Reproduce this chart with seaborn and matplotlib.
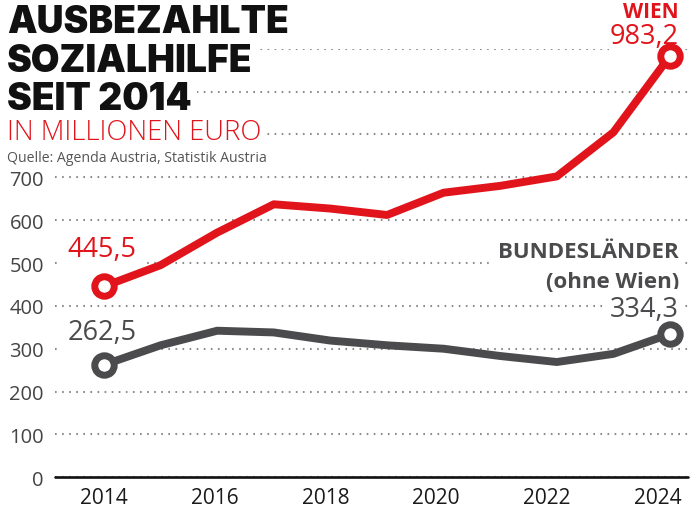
import numpy as np
import pandas as pd
import matplotlib
matplotlib.use("Agg")
import matplotlib.pyplot as plt
import seaborn as sns

# data (Mio. Euro)
years = [2014, 2015, 2016, 2017, 2018, 2019, 2020, 2021, 2022, 2023, 2024]
wien = [445.5, 495, 571, 637, 627, 612, 664, 680, 702, 805, 983.2]
bundeslaender = [262.5, 308, 342, 338, 319, 308, 300, 283, 269, 288, 334.3]
year_ticks = [2014, 2016, 2018, 2020, 2022, 2024]
y_ticks = [0, 100, 200, 300, 400, 500, 600, 700, 800, 900, 1000]
y_ticklabels = ["0", "100", "200", "300", "400", "500", "600", "700", "", "", ""]

RED = "#e1141c"
GREY = "#4b4b4d"
W, H = 700, 510
SANS = ["Open Sans", "DejaVu Sans"]


def px(x, y):
    return x / W, 1 - y / H


sns.set_theme(style="white")
plt.rcParams["font.family"] = SANS

df = pd.DataFrame({"jahr": years, "Wien": wien, "Bundesländer": bundeslaender})

fig = plt.figure(figsize=(7, 5.1), dpi=100)
ax = fig.add_axes([55 / W, 1 - 478.3 / H, (688 - 55) / W, (478.3 - 49.7) / H])

for col, color in [("Bundesländer", GREY), ("Wien", RED)]:
    sns.lineplot(data=df, x="jahr", y=col, ax=ax, color=color, lw=5.7,
                 solid_capstyle="round", solid_joinstyle="round",
                 marker="o", markevery=[0, len(years) - 1], markersize=14,
                 markerfacecolor="white", markeredgecolor=color,
                 markeredgewidth=5, clip_on=False, zorder=4)

ax.set_xlim(2013.134, 2024.318)
ax.set_ylim(0, 1000)
ax.set_yticks(y_ticks)
ax.set_yticklabels(y_ticklabels)
# the labels in the reference sit on a slightly tighter spacing than the data
ax.set_xticks([2014 + (y - 2014) * 0.978 for y in year_ticks])
ax.set_xticklabels([str(y) for y in year_ticks])
ax.tick_params(axis="y", length=0, pad=8, labelsize=14.5, labelcolor="#444444")
ax.tick_params(axis="x", length=0, pad=7, labelsize=15, labelcolor="#1a1a1a")
ax.set_xlabel("")
ax.set_ylabel("")
for s in ax.spines.values():
    s.set_visible(False)
ax.yaxis.grid(True, color="#8c8c8c", lw=1.5, linestyle=(0, (0.8, 2.6)))
ax.xaxis.grid(False)
ax.axhline(0, color="#111111", lw=1.9, zorder=3, clip_on=False)

white = dict(facecolor="white", edgecolor="none", pad=4)
tight = dict(facecolor="white", edgecolor="none", pad=0.5)

# title block
tfont = dict(family=["Inter", "DejaVu Sans"], weight=900, size=26.8, color="#111111")
fig.text(*px(7, 33), "AUSBEZAHLTE", ha="left", va="baseline", bbox=white, **tfont)
fig.text(*px(7, 72), "SOZIALHILFE", ha="left", va="baseline", bbox=white, **tfont)
fig.text(*px(7, 110), "SEIT 2014", ha="left", va="baseline", bbox=white, **tfont)
fig.text(*px(7, 140), "IN MILLIONEN EURO", ha="left", va="baseline", bbox=white,
         family=SANS, weight="light", size=19.8, color=RED)
fig.text(*px(7, 162), "Quelle: Agenda Austria, Statistik Austria", ha="left",
         va="baseline", family=SANS, size=10.2, color="#555555")


def label(x, y, s, ha, color, size, weight="normal", box=white, z=2):
    # drawn inside the axes below the lines so that markers stay visible
    ax.text(*px(x, y), s, transform=fig.transFigure, ha=ha, va="baseline",
            bbox=box, family=SANS, weight=weight, size=size, color=color,
            zorder=z)


label(679, 18, "WIEN", "right", RED, 15, "bold", box=None, z=2.2)
label(679, 44, "983,2", "right", RED, 19.5, box=tight)
label(102, 257, "445,5", "center", RED, 19.5)
label(102, 340, "262,5", "center", GREY, 19.5)
label(679, 258, "BUNDESLÄNDER", "right", GREY, 16, "bold")
label(679, 288, "(ohne Wien)", "right", GREY, 16, "bold")
label(679, 317, "334,3", "right", GREY, 19.5)

fig.savefig("out.png", dpi=100)
